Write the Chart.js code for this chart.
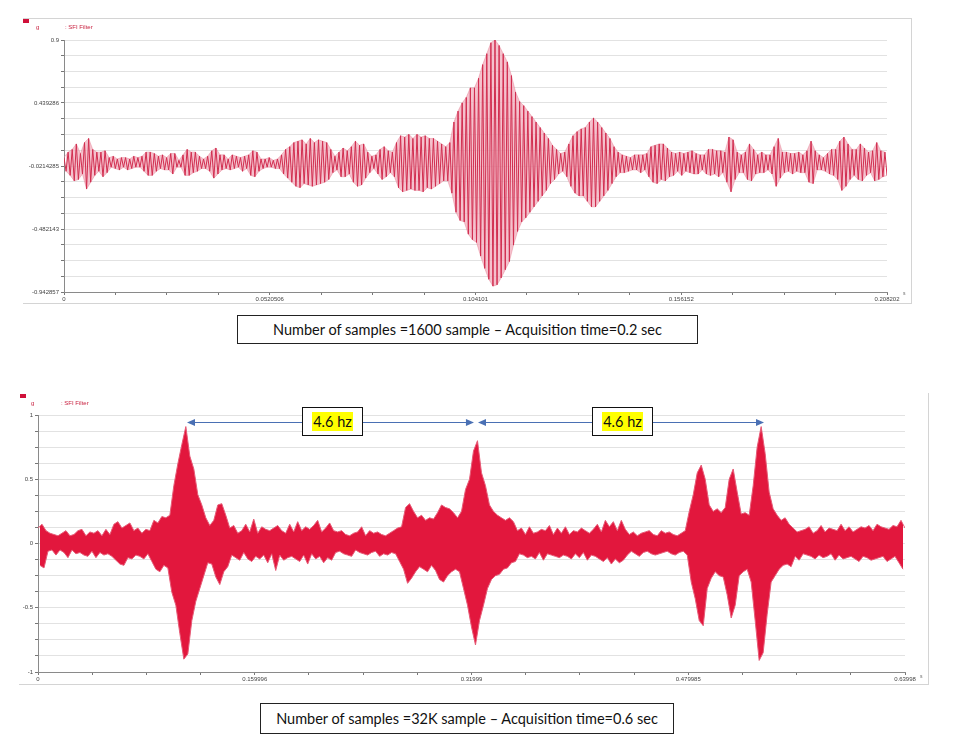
<!DOCTYPE html>
<html>
<head>
<meta charset="utf-8">
<title>SFI Filter</title>
<script src="https://cdn.jsdelivr.net/npm/chart.js@4.4.1/dist/chart.umd.min.js"></script>
<style>
  html, body { margin: 0; padding: 0; background: #fff; }
  body { width: 956px; height: 748px; position: relative; overflow: hidden; font-family: "Liberation Sans", Arial, sans-serif; }
  .frame { position: absolute; box-sizing: border-box; }
  #topFrame { left: 23px; top: 18px; width: 889px; height: 286px; border-top: 1px solid #d4d4d4; border-right: 1px solid #d4d4d4; border-bottom: 1px solid #d4d4d4; }
  #bottomFrame { left: 19px; top: 393px; width: 910px; height: 292px; border-right: 1px solid #d4d4d4; border-bottom: 1px solid #d4d4d4; }
  canvas { position: absolute; }
  #topChart { left: 24px; top: 18px; }
  #bottomChart { left: 20px; top: 393px; }
  .leg-sq { position: absolute; width: 6px; height: 4px; background: #d0103a; }
  .leg-txt { position: absolute; font-size: 6px; line-height: 6px; color: #c8203f; }
  .unit { position: absolute; font-size: 5px; line-height: 5px; color: #666; }
  .caption { position: absolute; box-sizing: border-box; border: 1px solid #222; font-family: Lato, "Open Sans", sans-serif; font-size: 14.5px; color: #111;
             display: flex; align-items: center; justify-content: center; white-space: nowrap; }
  .hz { position: absolute; box-sizing: border-box; width: 61px; height: 29px; border: 1px solid #111; background: #fff;
        display: flex; align-items: center; justify-content: center; }
  .hz span { background: #ffff00; font-family: Lato, sans-serif; font-size: 14.5px; line-height: 19px; padding: 0 1px; color: #111; }
</style>
</head>
<body>

<div class="frame" id="topFrame"></div>
<div class="frame" id="bottomFrame"></div>

<canvas id="topChart" width="887" height="285"></canvas>
<canvas id="bottomChart" width="908" height="291"></canvas>

<div class="leg-sq" style="left:23px; top:19px;"></div>
<div class="leg-txt" style="left:36px; top:24px;">g</div>
<div class="leg-txt" style="left:65px; top:24px;">: SFI Filter</div>
<div class="unit" style="left:903px; top:291px;">s</div>

<div class="leg-sq" style="left:20px; top:394px;"></div>
<div class="leg-txt" style="left:31px; top:400px;">g</div>
<div class="leg-txt" style="left:61px; top:400px;">: SFI Filter</div>
<div class="unit" style="left:920px; top:674px;">s</div>

<div class="hz" style="left:302px; top:407px;"><span>4.6 hz</span></div>
<div class="hz" style="left:592px; top:407px;"><span>4.6 hz</span></div>

<div class="caption" style="left:237px; top:315px; width:461px; height:29px;">Number of samples =1600 sample &ndash; Acquisition time=0.2 sec</div>
<div class="caption" style="left:260px; top:703px; width:414px; height:31px;">Number of samples =32K sample &ndash; Acquisition time=0.6 sec</div>

<script>
var topDuration = 0.208202;
var topXTicks = [0, 0.0520506, 0.104101, 0.156152, 0.208202];
var topXLabels = ["0", "0.0520506", "0.104101", "0.156152", "0.208202"];
var topYTicks = [-0.942857, -0.482143, -0.0214285, 0.439286, 0.9];
var topYLabels = ["-0.942857", "-0.482143", "-0.0214285", "0.439286", "0.9"];
var topSignal = [
  .04,-.06,.08,-.09,.1, -.13,.14,-.12, .07,-.08, .15,-.19,.18,-.14, .1,-.09,.08,-.06, .08,-.1,.09,-.07,
  .04,-.03,.05,-.04,.03,-.05,.04,-.03,.04,-.05,.03,-.04,.05,-.03,.04,-.03,.05,
  -.06,.08,-.09,.08,-.09,.07,-.06,.05, -.04,.06,-.05,.04,-.05, .07,-.08,.07, -.03,.02,-.03,
  .06,-.09,.1,-.09,.08, -.07,.08,-.06,.05, -.04,.03,-.04,.05,-.06, .09,-.11,.11,-.08, .06,-.05,.06,-.04,
  .03,-.05,.06,-.04,.05,-.03,.04,-.06,.05,-.04, .06,-.09,.09,-.1,.08,-.06,
  .03,-.04,.03,-.03,.04,-.03,.02,-.04,.03,-.04, .06,-.08,.1,-.11,.12,-.14,
  .15,-.17,.16,-.18,.17,-.15,.14,-.16,.18,-.17,.15,-.16,.17,-.15,.16,-.14,.15,
  -.12,.1,-.07,.05,-.05, .08,-.1,.11,-.1,.09,-.08, .12,-.14,.16,-.17,.13,-.16,.14,-.11,
  .08,-.07,.05,-.04,.06,-.08, .1,-.12,.12,-.1,.09, -.07,.08,-.1,
  .15,-.18,.2,-.21,.19,-.2,.21,-.19,.18,-.2,.21,-.2,.19,-.21,.2,-.18,
  .18,-.19,.18,-.17,.16,-.15, .14,-.13,.12,-.13,.15, -.22,.3,-.36,.38,-.42,.44,-.43,
  .48,-.52,.55,-.56,.55,-.58,.62,-.68,.72,-.77, .8,-.85,.88,-.9,.9,-.89,.86,-.84,.8,-.78,
  .74,-.72,.64,-.6,.52,-.5, .45,-.43,.42,-.4,.38,-.36,.34,-.32,
  .3,-.28,.26,-.24,.22,-.2,.18,-.15,.13,-.12,.1, -.08,.07,-.06,.08,-.1,
  .14,-.17,.2,-.22,.23,-.24,.25,-.24,.26,-.28,.3,-.32,.33, -.32,.3,-.28,.26,-.24,.22,-.2,.18,-.15,.12,
  -.1,.08,-.07,.06,-.07, .05,-.06,.04,-.05,.06,-.05, .06,-.07,.06,-.05,.07,
  -.1,.12,-.14,.13,-.15,.14,-.12,.14,-.13,.11,-.1, .08,-.09,.07,-.06,.08,-.09,.07,
  -.06,.08,-.07,.09,-.08,.07,-.08,.06,-.05,.06, -.08,.1,-.09,.1,-.08,.09,-.1,.09,-.07,.08,
  -.14,.19,-.21,.17,-.12, .08,-.07,.06,-.07,.08, -.12,.14,-.13,.1,-.08, .06,-.07,.08,-.07,.06,-.05,.06,-.08,
  .12,-.17,.18,-.11,.08, -.07,.08,-.06,.07,-.08,.07,-.06,.08,-.07,.06,-.07,.09,
  -.14,.16,-.15,.09, -.05,.06,-.05,.04,-.06,.07, -.08,.1,-.09,.1,-.12, .16,-.2,.19,-.17,.14,-.12,
  .1,-.09,.1, -.12,.14,-.13,.11,-.09, .08,-.07,.09, -.13,.15,-.12, .09,-.1,.08,-.09
];

var bottomDuration = 0.63998;
var bottomXTicks = [0, 0.159996, 0.31999, 0.479985, 0.63998];
var bottomXLabels = ["0", "0.159996", "0.31999", "0.479985", "0.63998"];
var bottomYTicks = [-1, -0.5, 0, 0.5, 1];
var bottomYLabels = ["-1", "-0.5", "0", "0.5", "1"];
var bottomSignal = [
  .12,-.17,.15,-.19,.1,
  -.06,.08,-.05,.07,-.09,.06,-.05,.08,-.07,.1,-.11,.06,-.05,.07,
  -.08,.1,-.07,.11,-.09,.06,-.1,.09,-.06,.08,-.11,.1,-.07,.06,-.09,.11,-.08,.07,
  -.1,.15,-.13,.17,-.16,.12,-.17,.14,-.11,.16,-.12,.1,
  -.09,.12,-.1,.08,-.12,.11,-.08,.1,
  -.14,.18,-.2,.16,-.22,.21,-.17,.2,-.19,.22,
  -.38,.45,-.48, .62,-.7,.77, -.9,.91,-.86, .68,-.6,.58,
  -.45,.38,-.35,.3,-.25,.2, -.15,.14,-.16,.18, -.26,.3,-.32,.31, -.22,.22,-.18,
  .12,-.09,.14,-.11,.08,-.13,.1,-.07,.15,-.12,.09,-.14,.19,-.1,.08,-.12,.13,-.09,.11,-.15,
  .1,-.08,.12,-.21,.14,-.09,.1,-.13,.08,-.11,.15,-.1,.09,-.12,.17,-.14,.1,-.09,.13,-.16,
  .11,-.08,.14,-.12,.18,-.1,.09,-.15,.12,-.11,.16,-.13,.1,
  -.07,.09,-.06,.1,-.08,.07,-.09,.06,-.1,.08,-.05,.09,-.07,.13,-.08,.06,-.09,.1,-.07,.08,
  -.06,.09,-.1,.07,-.08,.06,-.09,.08,-.07,.1,-.08,
  .12,-.14,.13, -.2,.28,-.31,.31,-.27,.25,-.22,.2, -.18,.22,-.2,.18,-.22,.2,-.17,.19,-.21,
  .24,-.28,.3,-.3,.28,-.25,.27,-.22,.24,-.2, .2,-.22,.25,
  -.35,.42,-.48,.5, -.65,.72,-.79,.8, -.6,.55,-.48,.45,
  -.35,.3,-.28,.25,-.25,.22,-.24,.2, -.2,.18,-.19,.2,-.15,.17,-.14,
  .1,-.08,.12,-.09,.07,-.11,.13,-.1,.08,-.12,.09,-.07,.11,-.13,.1,-.08,.14,-.09,.07,-.1,
  .12,-.11,.08,-.09,.13,-.1,.07,-.12,.1,-.08,.09,-.11,.12,-.07,.1,-.13,.08,-.09,.11,-.1,
  .15,-.12,.09,-.14,.18,-.11,.13,-.16,.17,-.12,.1,-.15,.18,-.13,.11,-.09,
  .07,-.06,.09,-.08,.06,-.1,.08,-.07,.09,-.06,.1,-.08,.07,-.09,.06,-.08,.1,-.07,.08,-.06,
  .09,-.08,.07,-.09,.06,-.07,.08,-.06,.1,-.09,
  .25,-.3,.38,-.43, .55,-.6,.61,-.64,.5,
  -.35,.3,-.27,.25,-.22,.27,-.25,.24,-.26,.28, -.4,.5,-.58,.58,-.48,.4,
  -.25,.23,-.22,.24,-.2,.22,-.3, .45,-.6,.75,-.91,.91,-.85,.7,-.55,
  .4,-.3,.27,-.25,.22,-.2, .18,-.17,.2,-.16,.15,-.18,
  .12,-.1,.09,-.13,.1,-.08,.11,-.09,.13,-.1,.08,-.12,.1,-.09,.14,-.11,.09,-.1,.12,-.08,
  .11,-.13,.1,-.09,.15,-.12,.1,-.11,.13,-.1,.09,-.12,.11,-.14,.13,-.1,.12,-.11,.14,-.13,
  .1,-.12,.15,-.11,.13,-.1,.12,-.14,.11,-.12,.14,-.1,.13,-.15,.18,-.2,.12
];

// the two 4.6 hz spans (peak to peak, s) and the height they are drawn at
var hzSpans = [[0.110, 0.3218], [0.3248, 0.5359]];
var hzArrowLevel = 0.945;

(function() {
  "use strict";

  var tickFont = { family: "Liberation Sans", size: 6 };

  // four small divisions between every labelled tick
  var subdivide = function(majors) {
    var out = [];
    for (var i = 0; i < majors.length - 1; i++) {
      var step = (majors[i + 1] - majors[i]) / 4;
      for (var k = 0; k < 4; k++) out.push(majors[i] + k * step);
    }
    out.push(majors[majors.length - 1]);
    return out;
  };

  var toPoints = function(signal, duration) {
    var dt = duration / (signal.length - 1);
    return signal.map(function(v, i) { return { x: i * dt, y: v }; });
  };

  var makeChart = function(id, cfg) {
    var xAll = subdivide(cfg.xTicks),
        yAll = subdivide(cfg.yTicks),
        pts = toPoints(cfg.signal, cfg.duration);

    // band between the upper and the lower peaks, so the record reads solid
    var datasets = [{
      data: pts.filter(function(p) { return p.y >= 0; }),
      borderColor: cfg.edgeColor, borderWidth: cfg.edgeWidth,
      pointRadius: 0, tension: 0, fill: false, order: 2
    }, {
      data: pts.filter(function(p) { return p.y < 0; }),
      borderColor: cfg.edgeColor, borderWidth: cfg.edgeWidth,
      backgroundColor: cfg.fillColor,
      pointRadius: 0, tension: 0, fill: "-1", order: 2
    }];
    if (cfg.lineWidth > 0) {
      // the trace itself, stroke by stroke
      datasets.push({
        data: pts,
        borderColor: cfg.color, borderWidth: cfg.lineWidth,
        pointRadius: 0, tension: 0, fill: false, order: 1
      });
    }

    return new Chart(document.getElementById(id), {
      type: "line",
      data: { datasets: datasets },
      options: {
        responsive: false,
        animation: false,
        layout: { padding: { top: cfg.padTop, right: cfg.padRight, left: 0, bottom: 0 } },
        plugins: { legend: { display: false }, tooltip: { enabled: false } },
        scales: {
          x: {
            type: "linear",
            min: 0,
            max: cfg.duration,
            afterBuildTicks: function(scale) {
              scale.ticks = xAll.map(function(v) { return { value: v }; });
            },
            afterFit: function(scale) { scale.height = cfg.xAxisHeight; },
            grid: { drawOnChartArea: false, tickLength: 3, tickColor: "#777" },
            border: { color: "#8a8a8a" },
            ticks: {
              autoSkip: false, maxRotation: 0, minRotation: 0, padding: 1,
              font: tickFont, color: "#444",
              callback: function(v, i) { return i % 4 === 0 ? cfg.xLabels[i / 4] : ""; }
            }
          },
          y: {
            type: "linear",
            min: cfg.yTicks[0],
            max: cfg.yTicks[cfg.yTicks.length - 1],
            afterBuildTicks: function(scale) {
              scale.ticks = yAll.map(function(v) { return { value: v }; });
            },
            afterFit: function(scale) { scale.width = cfg.yAxisWidth; },
            grid: { color: "#e2e2e2", tickLength: 3, tickColor: "#777" },
            border: { color: "#8a8a8a" },
            ticks: {
              autoSkip: false, padding: 2,
              font: tickFont, color: "#444",
              callback: function(v, i) { return i % 4 === 0 ? cfg.yLabels[i / 4] : ""; }
            }
          }
        }
      },
      plugins: cfg.plugins || []
    });
  };

  var hzArrows = {
    id: "hzArrows",
    afterDraw: function(chart) {
      var ctx = chart.ctx,
          xs = chart.scales.x,
          py = Math.round(chart.scales.y.getPixelForValue(hzArrowLevel)) + 0.5;

      ctx.save();
      ctx.strokeStyle = "#4a70b4";
      ctx.fillStyle = "#4a70b4";
      ctx.lineWidth = 1.2;
      hzSpans.forEach(function(span) {
        var a = xs.getPixelForValue(span[0]),
            b = xs.getPixelForValue(span[1]);
        ctx.beginPath();
        ctx.moveTo(a + 4, py);
        ctx.lineTo(b - 4, py);
        ctx.stroke();
        ctx.beginPath();
        ctx.moveTo(a, py); ctx.lineTo(a + 8, py - 3.5); ctx.lineTo(a + 8, py + 3.5);
        ctx.closePath(); ctx.fill();
        ctx.beginPath();
        ctx.moveTo(b, py); ctx.lineTo(b - 8, py - 3.5); ctx.lineTo(b - 8, py + 3.5);
        ctx.closePath(); ctx.fill();
      });
      ctx.restore();
    }
  };

  makeChart("topChart", {
    signal: topSignal, duration: topDuration,
    xTicks: topXTicks, xLabels: topXLabels,
    yTicks: topYTicks, yLabels: topYLabels,
    color: "#d12d4f", lineWidth: 1,
    fillColor: "rgba(242,172,188,0.75)", edgeColor: "rgba(230,130,150,0.6)", edgeWidth: 0.8,
    yAxisWidth: 40, xAxisHeight: 11, padTop: 22, padRight: 24
  });

  makeChart("bottomChart", {
    signal: bottomSignal, duration: bottomDuration,
    xTicks: bottomXTicks, xLabels: bottomXLabels,
    yTicks: bottomYTicks, yLabels: bottomYLabels,
    color: "#e2173d", lineWidth: 0,
    fillColor: "#e2173d", edgeColor: "#e65a76", edgeWidth: 1,
    yAxisWidth: 18, xAxisHeight: 12, padTop: 22, padRight: 23,
    plugins: [hzArrows]
  });
})();
</script>
</body>
</html>
